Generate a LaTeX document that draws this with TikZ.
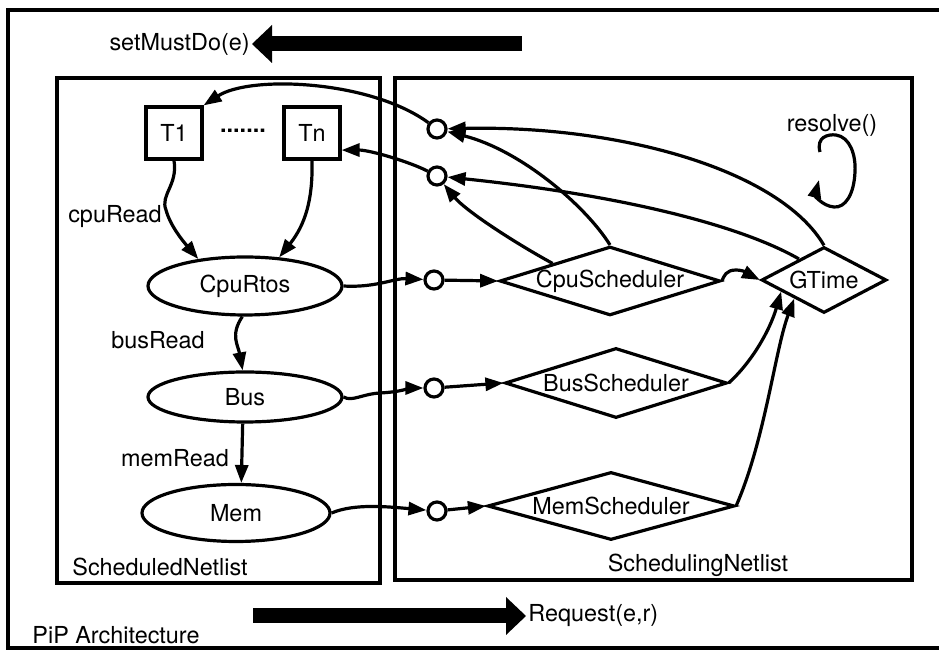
\documentclass[tikz,border=0pt]{standalone}
\usepackage{fontspec}
\setmainfont{TeX Gyre Heros}
\usepackage{tikz}
\usetikzlibrary{arrows.meta,shapes.geometric,calc}
\tikzset{
  >={Triangle[length=9pt,width=6.5pt]},
  ln/.style={line width=1.6pt},
  tbox/.style={draw,ln,minimum width=28pt,minimum height=26pt,inner sep=0pt},
  proc/.style={ellipse,draw,ln,inner sep=0pt},
  sched/.style={diamond,draw,ln,inner sep=0pt},
  port/.style={circle,draw,ln,fill=white,minimum size=9pt,inner sep=0pt},
  lab/.style={inner sep=1pt},
  arr/.style={->,ln},
  bigarr/.style={-{Triangle[length=10pt,width=19pt,line width=0pt]},line width=7.5pt},
}
\begin{document}
\begin{tikzpicture}[x=0.5pt,y=-0.5pt,every node/.style={font=\fontsize{11.7}{14}\selectfont}]
\useasboundingbox (0,0) rectangle (939,651);
% frames
\draw[ln] (939,10) -- (8,10) -- (8,648) -- (939,648);
\draw[ln] (57,78) rectangle (380,583);
\draw[ln] (395,78) rectangle (912,580);
% scheduled netlist
\node[tbox] (T1) at (174,133) {T1};
\node[tbox] (Tn) at (312,133) {Tn};
\node (dots) at (243,131) {\bfseries .......};
\node[proc,minimum width=97pt,minimum height=29pt] (cpu) at (245,286) {CpuRtos};
\node[proc,minimum width=97pt,minimum height=25pt] (bus) at (245,397) {Bus};
\node[proc,minimum width=94pt,minimum height=28.5pt] (mem) at (236,513) {Mem};
% ports
\node[port] (p1) at (437,129) {};
\node[port] (p2) at (437,176) {};
\node[port] (p3) at (434,280) {};
\node[port] (p4) at (434,388) {};
\node[port] (p5) at (437,511) {};
% scheduling netlist
\node[sched,shape aspect=3.2,minimum width=109pt,minimum height=34pt] (cpus) at (610,281) {CpuScheduler};
\node[sched,shape aspect=3.17,minimum width=111pt,minimum height=35pt] (buss) at (616,383) {BusScheduler};
\node[sched,shape aspect=3.63,minimum width=123.5pt,minimum height=34pt] (mems) at (611,506) {MemScheduler};
\node[sched,shape aspect=1.9,minimum width=62.5pt,minimum height=33pt] (gtime) at (824,280) {GTime};
% labels
\node[lab] (cpuread) at (115,217) {cpuRead};
\node[lab] (busread) at (158,340) {busRead};
\node[lab] (memread) at (175,458) {memRead};
\node[lab] (resolve) at (832,125) {resolve()};
\node[lab,anchor=west] (sdn) at (70,567) {ScheduledNetlist};
\node[lab] (sgn) at (698,565) {SchedulingNetlist};
\node[lab] (pip) at (116,635) {PiP Architecture};
\node[lab,anchor=east] (setmust) at (252,44) {setMustDo(e)};
\node[lab,anchor=west] (request) at (526,616) {Request(e,r)};
\coordinate (mustsrc) at (522,44);
\coordinate (reqsrc) at (253,616);
\draw[bigarr] (mustsrc) -- (setmust.east);
\draw[bigarr] (reqsrc) -- (request.west);
% resolve loop
\coordinate (loopa) at (820,152);
\coordinate (loopb) at (819,180);
\draw[arr] (loopa) .. controls (816,137) and (828,134) .. (836,135)
  .. controls (850,137) and (856,155) .. (855,172)
  .. controls (854,195) and (845,208) .. (834,207)
  .. controls (822,206) and (815,195) .. (loopb);
% reads
\draw[arr] (T1.south) .. controls (178,185) and (160,195) .. (166,210)
  .. controls (170,225) and (182,240) .. (cpu.150);
\draw[arr] (Tn.south) .. controls (313,200) and (305,225) .. (cpu.40);
\draw[arr] (cpu.265) .. controls (230,335) and (238,345) .. (bus.95);
\draw[arr] (bus.265) -- (mem.80);
% requests
\draw[arr] (cpu.east) .. controls (375,288) and (395,278) .. (p3);
\draw[arr] (p3) -- (cpus.west);
\draw[arr] (bus.east) .. controls (352,402) and (362,394) .. (380,393)
  .. controls (400,392) and (412,388) .. (p4);
\draw[arr] (p4) -- (buss.west);
\draw[arr] (mem.east) .. controls (355,503) and (390,507) .. (p5);
\draw[arr] (p5) -- (mems.west);
\draw[arr] (cpus.east) .. controls (724,276) and (726,270) .. (736,270)
  .. controls (746,270) and (752,276) .. (gtime.west);
\draw[arr] (buss.east) .. controls (752,362) and (770,330) .. (gtime.195);
\draw[arr] (mems.east) .. controls (765,440) and (775,350) .. (gtime.212);
% setMustDo back to tasks
\draw[arr] (cpus.north) .. controls (585,205) and (520,150) .. (p1);
\draw[arr] (cpus.163) .. controls (510,240) and (465,210) .. (p2);
\draw[arr] (gtime.north) .. controls (780,170) and (620,125) .. (p1);
\draw[arr] (gtime.140) .. controls (740,225) and (620,195) .. (p2);
\draw[arr] (p1) .. controls (370,80) and (250,75) .. (T1.north east);
\draw[arr] (p2) .. controls (410,162) and (370,150) .. (Tn.-30);
\end{tikzpicture}
\end{document}
